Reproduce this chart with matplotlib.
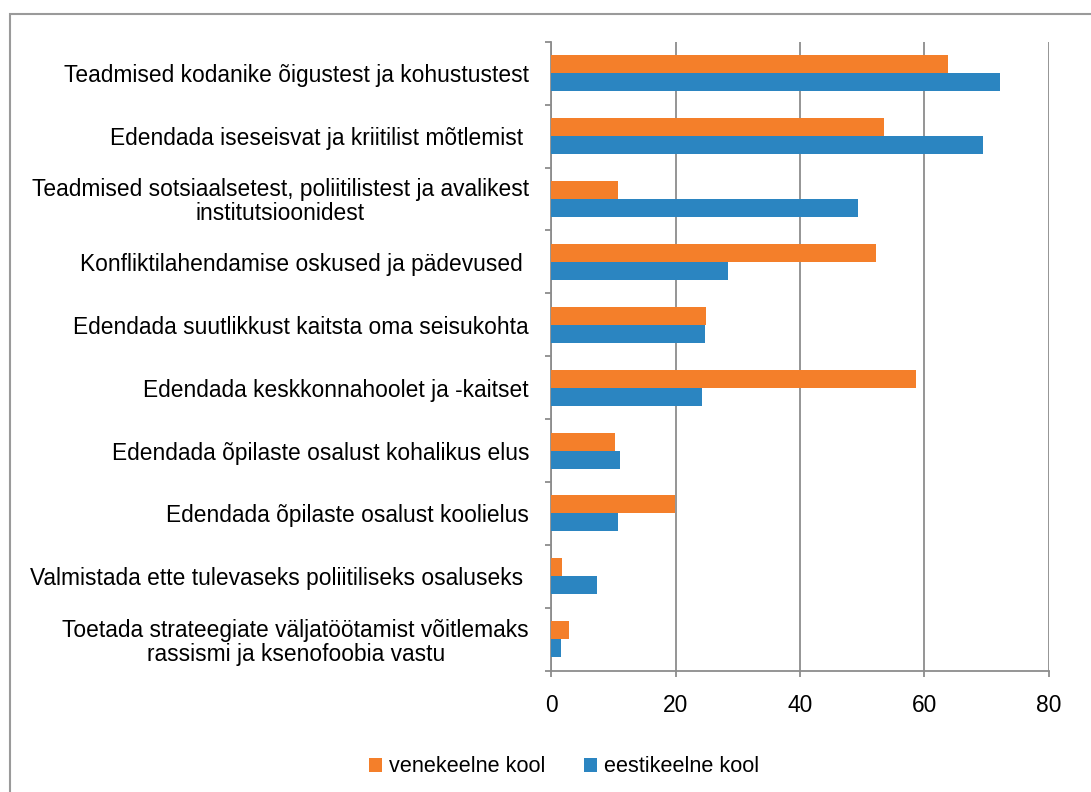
import matplotlib
matplotlib.use('Agg')
import matplotlib.pyplot as plt
from matplotlib.patches import Rectangle
import numpy as np

categories = [
  'Teadmised kodanike õigustest ja kohustustest',
  'Edendada iseseisvat ja kriitilist mõtlemist ',
  'Teadmised sotsiaalsetest, poliitilistest ja avalikest\ninstitutsioonidest',
  'Konfliktilahendamise oskused ja pädevused ',
  'Edendada suutlikkust kaitsta oma seisukohta',
  'Edendada keskkonnahoolet ja -kaitset',
  'Edendada õpilaste osalust kohalikus elus',
  'Edendada õpilaste osalust koolielus',
  'Valmistada ette tulevaseks poliitiliseks osaluseks ',
  'Toetada strateegiate väljatöötamist võitlemaks\nrassismi ja ksenofoobia vastu',
]
venekeelne = [63.8, 53.5, 10.8, 52.2, 24.9, 58.7, 10.2, 19.9, 1.8, 2.85]
eestikeelne = [72.1, 69.5, 49.4, 28.4, 24.8, 24.3, 11.05, 10.7, 7.4, 1.5]
xticks = [0, 20, 40, 60, 80]

orange = '#F47F2A'
blue = '#2B85C1'
gridGray = '#8C8C8C'

plt.rcParams['font.family'] = ['Liberation Sans', 'DejaVu Sans']

fig = plt.figure(figsize=(10.91, 7.92), dpi=100)
ax = fig.add_axes([0.5053, 0.1532, 0.4559, 0.7941])

# frame around the whole chart (right/bottom edges fall off the image)
fig.patches.append(Rectangle((10 / 1091, -0.1), 1.2, 0.1 + (792 - 14) / 792,
                             transform=fig.transFigure, fill=False,
                             edgecolor='#9A9A9A', linewidth=1.5))

y = np.arange(len(categories))
h = 0.286
ax.barh(y - h / 2, venekeelne, height=h, color=orange, label='venekeelne kool', zorder=3)
ax.barh(y + h / 2, eestikeelne, height=h, color=blue, label='eestikeelne kool', zorder=3)

ax.set_xlim(0, 80)
ax.set_ylim(len(categories) - 0.5, -0.5)
ax.set_xticks(xticks)
ax.set_xticklabels([str(t) for t in xticks])
ax.set_yticks(y)
ax.set_yticklabels(categories, multialignment='center', linespacing=1.05)
ax.set_yticks(np.arange(len(categories) + 1) - 0.5, minor=True)

ax.xaxis.grid(True, color=gridGray, linewidth=1.3, zorder=0)
for s in ['top', 'right']:
  ax.spines[s].set_visible(False)
for s in ['left', 'bottom']:
  ax.spines[s].set_color(gridGray)
  ax.spines[s].set_linewidth(1.3)

ax.tick_params(axis='y', which='major', length=0, pad=16, labelsize=16.4)
ax.tick_params(axis='y', which='minor', length=4, width=1.3, color=gridGray)
ax.tick_params(axis='x', length=4, width=1.3, color=gridGray, pad=13, labelsize=16.4)

fig.legend(loc='center', bbox_to_anchor=(0.517, 0.0316), ncol=2, frameon=False,
           fontsize=15.6, handlelength=0.6, handleheight=0.6, handletextpad=0.3,
           columnspacing=1.8)

plt.savefig('out.png', dpi=100)
plt.close()
